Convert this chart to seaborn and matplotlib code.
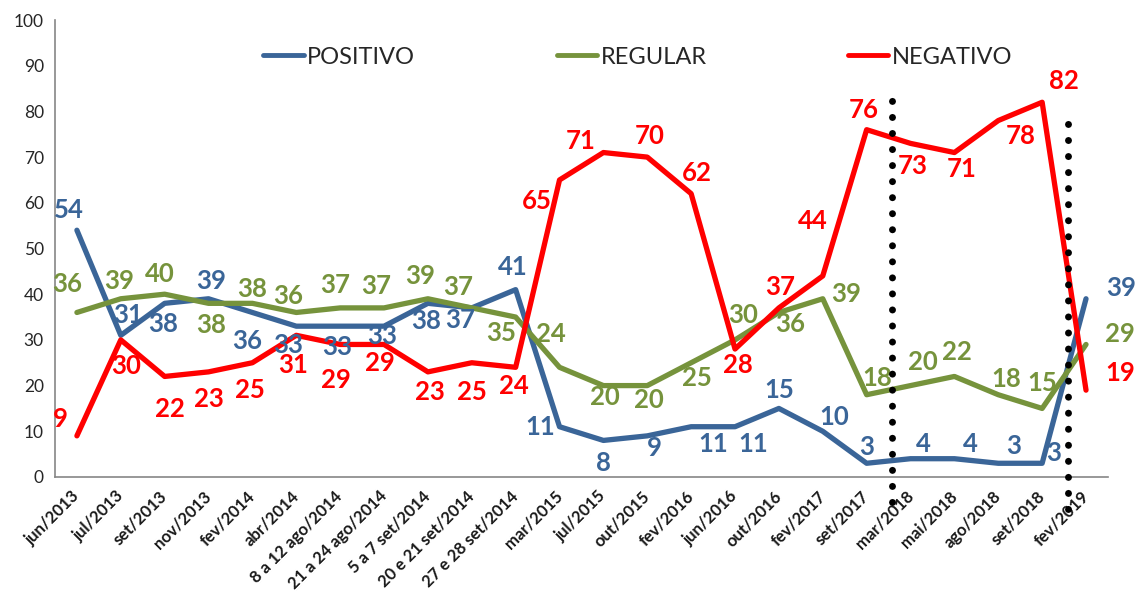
import numpy as np
import pandas as pd
import matplotlib
matplotlib.use("Agg")
import matplotlib.pyplot as plt
from matplotlib.lines import Line2D
import seaborn as sns

# categories on the x axis
periodos = ["jun/2013", "jul/2013", "set/2013", "nov/2013", "fev/2014", "abr/2014",
            "8 a 12 ago/2014", "21 a 24 ago/2014", "5 a 7 set/2014", "20 e 21 set/2014",
            "27 e 28 set/2014", "mar/2015", "jul/2015", "out/2015", "fev/2016", "jun/2016",
            "out/2016", "fev/2017", "set/2017", "mar/2018", "mai/2018", "ago/2018",
            "set/2018", "fev/2019"]

# series values (%)
positivo = [54, 31, 38, 39, 36, 33, 33, 33, 38, 37, 41, 11, 8, 9, 11, 11, 15, 10, 3, 4, 4, 3, 3, 39]
regular = [36, 39, 40, 38, 38, 36, 37, 37, 39, 37, 35, 24, 20, 20, 25, 30, 36, 39, 18, 20, 22, 18, 15, 29]
negativo = [9, 30, 22, 23, 25, 31, 29, 29, 23, 25, 24, 65, 71, 70, 62, 28, 37, 44, 76, 73, 71, 78, 82, 19]

series = ["POSITIVO", "REGULAR", "NEGATIVO"]
cores = {"POSITIVO": "#3A6598", "REGULAR": "#76933C", "NEGATIVO": "#FF0000"}

# label offsets in pixels (dx, dy) relative to each point
off_pos = [(-8, 20), (7, 20), (-2, -21), (3, 18), (-5, -29), (-8, -19), (-3, -21), (-2, -10),
           (-2, -18), (-12, -12), (-3, 23), (-19, 0), (0, -23), (7, -12), (22, -17), (18, -17),
           (0, 18), (11, 14), (0, 16), (13, 15), (16, 15), (15, 17), (12, 10), (35, 11)]
off_reg = [(-10, 28), (-2, 18), (-5, 20), (3, -22), (0, 14), (-8, 16), (-5, 23), (-8, 22),
           (-8, 23), (-14, 21), (-14, -16), (-9, 33), (1, -11), (2, -14), (6, -15), (8, 25),
           (11, -12), (23, 5), (11, 17), (12, 24), (2, 24), (8, 16), (0, 25), (34, 10)]
off_neg = [(-17, 17), (5, -26), (5, -33), (0, -27), (-2, -27), (-3, -30), (-4, -36), (-4, -19),
           (2, -20), (0, -29), (-2, -19), (-23, -21), (-23, 12), (2, 21), (6, 21), (3, -16),
           (1, 21), (-10, 55), (-3, 20), (2, -23), (7, -16), (22, -15), (22, 21), (34, 17)]

df = pd.DataFrame({
    "idx": list(range(len(periodos))) * 3,
    "valor": positivo + regular + negativo,
    "serie": [s for s in series for _ in periodos],
})

sns.set_style("white")
plt.rcParams["font.family"] = ["Lato", "DejaVu Sans"]

fig = plt.figure(figsize=(11.38, 5.99), dpi=100)
ax = fig.add_axes([0.0483, 0.2037, 0.9253, 0.7629])

sns.lineplot(data=df, x="idx", y="valor", hue="serie", hue_order=series, palette=cores,
             linewidth=3.8, legend=False, sort=False, ax=ax)

# data labels
for nome, vals, offs in [("POSITIVO", positivo, off_pos), ("REGULAR", regular, off_reg),
                         ("NEGATIVO", negativo, off_neg)]:
    for i, (v, (dx, dy)) in enumerate(zip(vals, offs)):
        ax.annotate(str(v), (i, v), xytext=(dx, dy), textcoords="offset pixels",
                    ha="center", va="center", fontsize=18.5, fontweight="bold",
                    color=cores[nome], annotation_clip=False)

# dotted vertical markers
for xv, y0, y1 in [(18.58, -5.5, 82.5), (22.6, -7, 80.7)]:
    ax.plot([xv, xv], [y0, y1], color="black", linewidth=5,
            linestyle=(0, (0.01, 2.3)), dash_capstyle="round", clip_on=False, zorder=5)

ax.set_xlim(-0.5, len(periodos) - 0.5)
ax.set_ylim(0, 100)
ax.set_yticks(range(0, 101, 10))
ax.set_xticks(range(len(periodos)))
ax.set_xticklabels(periodos, rotation=45, ha="right", va="center", rotation_mode="anchor",
                   fontsize=12, fontweight="bold", color="#1a1a1a")
ax.set_xticks(np.arange(-0.5, len(periodos), 1), minor=True)
ax.tick_params(axis="x", which="major", length=0, pad=12)
ax.tick_params(axis="x", which="minor", length=5, color="#868686", direction="out")
ax.tick_params(axis="y", length=5, color="#868686", direction="out", labelsize=12.5, pad=3,
               labelcolor="#262626")
ax.set_xlabel("")
ax.set_ylabel("")
for s in ["top", "right"]:
    ax.spines[s].set_visible(False)
for s in ["left", "bottom"]:
    ax.spines[s].set_color("#868686")
    ax.spines[s].set_linewidth(1.2)

handles = [Line2D([], [], color=cores[s], linewidth=3.5) for s in series]
fig.legend(handles, series, loc="center", bbox_to_anchor=(0.5606, 0.9048), ncol=3,
           frameon=False, fontsize=17, handlelength=1.7, handletextpad=0.15,
           columnspacing=6.0)

fig.savefig("out.png", dpi=100)
